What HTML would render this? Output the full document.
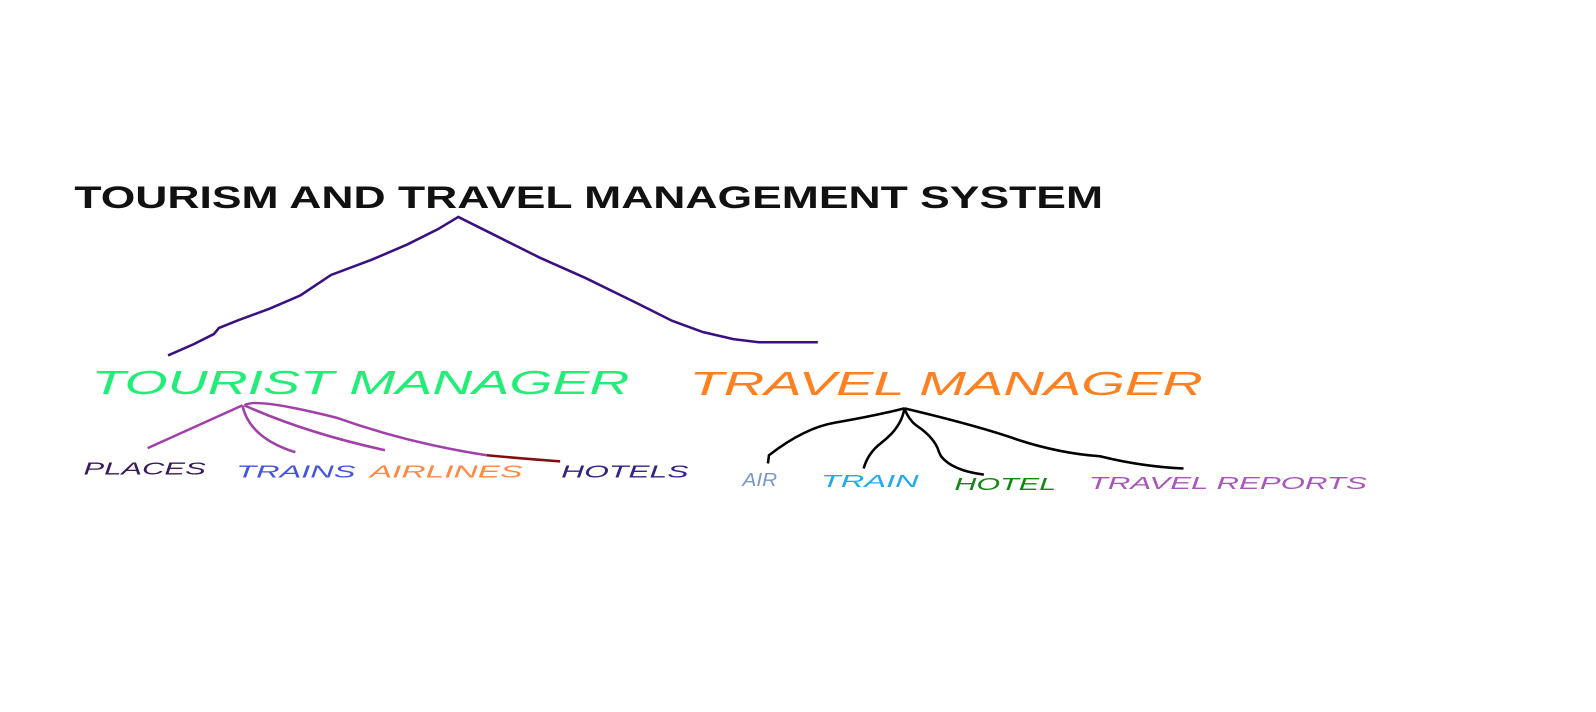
<!DOCTYPE html>
<html><head><style>html,body{margin:0;padding:0;background:#fff;overflow:hidden;width:1596px;height:712px}svg{display:block}</style></head><body>
<svg width="1596" height="712" viewBox="0 0 1596 712" xmlns="http://www.w3.org/2000/svg">
<rect width="1596" height="712" fill="#fff"/>
<g transform="scale(1.0185)">
<text x="73" y="204" font-family="Liberation Sans, sans-serif" font-weight="bold" font-size="31" textLength="1010" lengthAdjust="spacingAndGlyphs" fill="#111">TOURISM AND TRAVEL MANAGEMENT SYSTEM</text>
<path d="M165,349 L190,338 L210,328 L215,322 L235,314 L265,303 L295,290 L325,270 L365,255 L400,240 L430,225 L450,213 L490,233 L530,253 L575,273 L620,295 L660,315 L690,326 L720,333 L745,336 L803,336" fill="none" stroke="#3a1080" stroke-width="2.5"/>
<g font-family="Liberation Sans, sans-serif" font-style="italic">
<text x="90" y="387" font-size="33" textLength="528" lengthAdjust="spacingAndGlyphs" fill="#22ee77">TOURIST MANAGER</text>
<text x="677" y="388" font-size="33" textLength="504" lengthAdjust="spacingAndGlyphs" fill="#ff8020">TRAVEL MANAGER</text>
<text x="82" y="466" font-size="17" textLength="120" lengthAdjust="spacingAndGlyphs" fill="#3a1a5a">PLACES</text>
<text x="232" y="469" font-size="17" textLength="117" lengthAdjust="spacingAndGlyphs" fill="#4455dd">TRAINS</text>
<text x="363" y="469" font-size="17" textLength="150" lengthAdjust="spacingAndGlyphs" fill="#ff8844">AIRLINES</text>
<text x="551" y="469" font-size="17" textLength="125" lengthAdjust="spacingAndGlyphs" fill="#33228a">HOTELS</text>
<text x="729" y="477" font-size="18" textLength="34" lengthAdjust="spacingAndGlyphs" fill="#7799cc">AIR</text>
<text x="806" y="478" font-size="17" textLength="96" lengthAdjust="spacingAndGlyphs" fill="#22aaee">TRAIN</text>
<text x="937" y="481" font-size="17" textLength="100" lengthAdjust="spacingAndGlyphs" fill="#118811">HOTEL</text>
<text x="1069" y="480" font-size="17" textLength="273" lengthAdjust="spacingAndGlyphs" fill="#aa55bb">TRAVEL REPORTS</text>
</g>
<g fill="none" stroke="#a040a8" stroke-width="2.5">
<path d="M145,440 Q200,415 238,398"/>
<path d="M238,398 Q245,430 290,444"/>
<path d="M240,398 Q300,425 378,442"/>
<path d="M240,398 Q250,390 330,410 Q400,435 478,447"/>
</g>
<path d="M478,447 Q510,450 550,453" fill="none" stroke="#801010" stroke-width="2.5"/>
<g fill="none" stroke="#000" stroke-width="2.5">
<path d="M754,455 L755,447 Q790,420 820,415 Q860,408 888,401"/>
<path d="M888,401 Q885,420 865,435 Q852,445 848,460"/>
<path d="M888,401 Q892,412 900,418 Q918,430 922,444 L924,448 Q935,462 966,466"/>
<path d="M888,401 Q960,418 1000,432 Q1040,445 1080,448 Q1120,458 1162,460"/>
</g>
</g>
</svg>
</body></html>
